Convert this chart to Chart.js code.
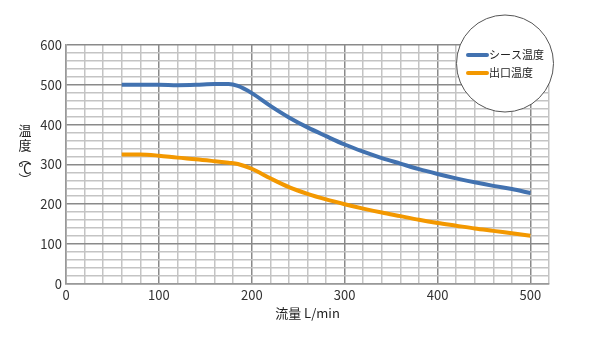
<!DOCTYPE html>
<html><head><meta charset="utf-8">
<script src="https://cdn.jsdelivr.net/npm/chart.js@4/dist/chart.umd.min.js"></script>
<style>html,body{margin:0;padding:0;background:#fff;}#wrap{width:600px;height:358px;position:relative;}</style>
</head><body><div id="wrap"><canvas id="c" width="600" height="358"></canvas></div>
<script>
const flowX = [60, 80, 100, 120, 140, 160, 175, 185, 200, 220, 240, 260, 280, 300, 320, 340, 360, 380, 400, 420, 440, 460, 480, 500];
const sheathTemp = [500, 500, 500, 499, 500, 502, 502, 497, 479, 447, 418, 393, 371, 350, 332, 316, 302, 288, 276, 265, 255, 246, 238, 228];
const outletTemp = [325, 325, 322, 317, 313, 308, 304, 301, 289, 265, 243, 226, 212, 200, 189, 179, 170, 161, 153, 146, 139, 133, 127, 121];
const seriesNames = ['シース温度', '出口温度'];
const xTicks = [0, 100, 200, 300, 400, 500];
const yTicks = [0, 100, 200, 300, 400, 500, 600];
const yTitleChars = ['温', '度', '︵', '℃', '︶'];
const xTitle = '流量 L/min';

const FONT = "'Noto Sans CJK JP', 'Noto Sans', sans-serif";
const colors = ['#4272b0', '#f39800'];

const pts = (ys) => flowX.map((x, i) => ({x, y: ys[i]}));

const deco = {
  id: 'deco',
  afterDraw(chart) {
    const ctx = chart.ctx;
    ctx.save();
    ctx.setTransform(1, 0, 0, 1, 0, 0);
    // stacked vertical y-axis title
    ctx.fillStyle = '#222';
    ctx.font = "13px " + FONT;
    ctx.textAlign = 'center';
    ctx.textBaseline = 'middle';
    const ys = [130, 145, 158, 168, 179];
    yTitleChars.forEach((ch, i) => ctx.fillText(ch, 25, ys[i]));
    // circular legend
    ctx.beginPath();
    ctx.arc(505, 63.5, 48.5, 0, Math.PI * 2);
    ctx.fillStyle = '#fff';
    ctx.fill();
    ctx.lineWidth = 1;
    ctx.strokeStyle = '#555';
    ctx.stroke();
    const ly = [55, 73];
    ctx.textAlign = 'left';
    ctx.font = "11px " + FONT;
    seriesNames.forEach((n, i) => {
      ctx.strokeStyle = colors[i];
      ctx.lineWidth = 4;
      ctx.lineCap = 'round';
      ctx.beginPath();
      ctx.moveTo(468, ly[i]);
      ctx.lineTo(487, ly[i]);
      ctx.stroke();
      ctx.fillStyle = '#222';
      ctx.fillText(n, 489, ly[i]);
    });
    ctx.restore();
  }
};

new Chart(document.getElementById('c'), {
  type: 'line',
  data: {
    datasets: [
      {label: seriesNames[0], data: pts(sheathTemp), borderColor: colors[0], borderWidth: 4, pointRadius: 0, cubicInterpolationMode: 'monotone', borderCapStyle: 'butt'},
      {label: seriesNames[1], data: pts(outletTemp), borderColor: colors[1], borderWidth: 4, pointRadius: 0, cubicInterpolationMode: 'monotone', borderCapStyle: 'butt'}
    ]
  },
  options: {
    responsive: false,
    animation: false,
    layout: {padding: {left: 0, right: 51, top: 45, bottom: 33}},
    plugins: {legend: {display: false}, tooltip: {enabled: false}},
    scales: {
      x: {
        type: 'linear', min: 0, max: 520,
        ticks: {stepSize: 20, autoSkip: false, maxRotation: 0, color: '#333', font: {size: 13, family: FONT}, padding: 3,
          callback: (v) => xTicks.includes(v) ? String(v) : ''},
        grid: {color: (c) => (c.tick && c.tick.value % 100 === 0) ? '#8a8a8a' : '#c4c4c4', lineWidth: 1.5, drawTicks: false},
        border: {color: '#999', width: 1.5},
        title: {display: true, text: xTitle, color: '#222', font: {size: 13, family: FONT}, padding: {top: 0}}
      },
      y: {
        min: 0, max: 600,
        ticks: {stepSize: 20, autoSkip: false, color: '#333', font: {size: 13, family: FONT}, padding: 4,
          callback: (v) => yTicks.includes(v) ? String(v) : ''},
        grid: {color: (c) => (c.tick && c.tick.value % 100 === 0) ? '#8a8a8a' : '#c4c4c4', lineWidth: 1.5, drawTicks: false},
        border: {color: '#999', width: 1.5},
        afterFit: (s) => { s.width = 66; }
      }
    }
  },
  plugins: [deco]
});
</script></body></html>
